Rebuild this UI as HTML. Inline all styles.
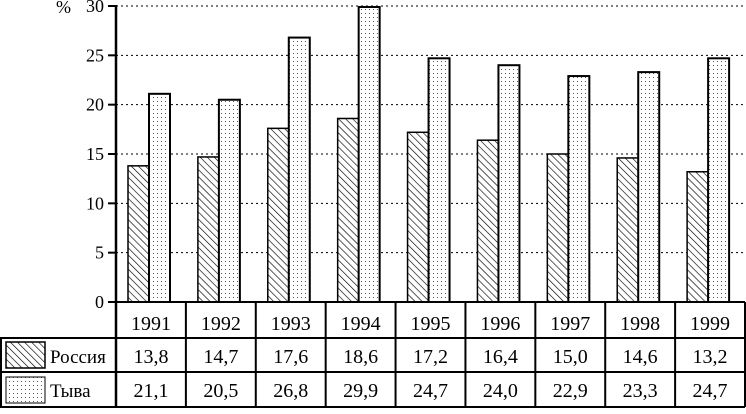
<!DOCTYPE html>
<html><head><meta charset="utf-8"><style>
body{margin:0;background:#fff;}
svg text{font-family:"Liberation Serif",serif;fill:#000;}
</style></head><body>
<svg width="746" height="409" viewBox="0 0 746 409" xmlns="http://www.w3.org/2000/svg">
<defs>
<pattern id="hatch" width="5" height="5" patternUnits="userSpaceOnUse" patternTransform="rotate(-45)">
<rect width="5" height="5" fill="#fff"/><line x1="0" y1="0" x2="0" y2="5" stroke="#000" stroke-width="1.3"/></pattern>
<pattern id="dots" width="4" height="4" patternUnits="userSpaceOnUse">
<rect width="4" height="4" fill="#fff"/><rect x="1" y="1" width="1" height="1" fill="#555"/></pattern>
</defs>
<g id="grid"></g>
<g id="bars"></g>
<g id="axis"></g>
<g id="table"></g>
</svg>
<script>
const years=["1991","1992","1993","1994","1995","1996","1997","1998","1999"];
const russia=[13.8,14.7,17.6,18.6,17.2,16.4,15.0,14.6,13.2];
const tyva=[21.1,20.5,26.8,29.9,24.7,24.0,22.9,23.3,24.7];
const russiaLabels=["13,8","14,7","17,6","18,6","17,2","16,4","15,0","14,6","13,2"];
const tyvaLabels=["21,1","20,5","26,8","29,9","24,7","24,0","22,9","23,3","24,7"];
const yTicks=[0,5,10,15,20,25,30];

const NS="http://www.w3.org/2000/svg";
const X0=116,X1=745,Y0=302,Ytop=6,YMAX=30;
const colW=(X1-X0)/years.length;
const y=v=>Y0-(v/YMAX)*(Y0-Ytop);
const xc=i=>X0+i*colW;
function mk(tag,attrs,parent,text){const e=document.createElementNS(NS,tag);for(const k in attrs)e.setAttribute(k,attrs[k]);if(text!==undefined)e.textContent=text;parent.appendChild(e);return e;}
const grid=document.getElementById('grid'),bars=document.getElementById('bars'),axis=document.getElementById('axis'),table=document.getElementById('table');

yTicks.forEach(t=>{
  if(t>0){const l=mk('line',{x1:X0,x2:X1,y1:y(t),y2:y(t),stroke:'#000','stroke-width':1,'stroke-dasharray':'2,3'},grid);
  
  }
  const tk=mk('line',{x1:X0-8,x2:X0,y1:y(t),y2:y(t),stroke:'#000','stroke-width':2},axis);
  
  
  const tx=mk('text',{x:X0-12,y:y(t)+6,'text-anchor':'end','font-size':18},axis,String(t));
  
  
});
const pct=mk('text',{x:56,y:13,'font-size':18},axis,'%');


const ax=mk('line',{x1:X0,x2:X0,y1:Ytop-1,y2:407,stroke:'#000','stroke-width':2.5},axis);



years.forEach((yr,i)=>{
  const r=mk('rect',{x:xc(i)+12,y:y(russia[i]),width:21,height:Y0-y(russia[i]),fill:'url(#hatch)',stroke:'#000','stroke-width':1.5},bars);
  
  
  const t=mk('rect',{x:xc(i)+33,y:y(tyva[i]),width:21,height:Y0-y(tyva[i]),fill:'url(#dots)',stroke:'#000','stroke-width':2},bars);
  
  
});

const rows=[302,338,372,407];
rows.forEach((ry,k)=>{const l=mk('line',{x1:k==0?X0:0,x2:X1,y1:ry,y2:ry,stroke:'#000','stroke-width':2},table);

});
mk('line',{x1:1,x2:1,y1:338,y2:407,stroke:'#000','stroke-width':2},table);
for(let i=1;i<=years.length;i++){const l=mk('line',{x1:xc(i),x2:xc(i),y1:302,y2:407,stroke:'#000','stroke-width':2},table);

}
years.forEach((yr,i)=>{
  const cx=xc(i)+colW/2;
  const a=mk('text',{x:cx,y:330,'text-anchor':'middle','font-size':20},table,yr);
  
  
  const b=mk('text',{x:cx,y:363,'text-anchor':'middle','font-size':20},table,russiaLabels[i]);
  
  
  const c=mk('text',{x:cx,y:397,'text-anchor':'middle','font-size':20},table,tyvaLabels[i]);
  
  
});
const s1=mk('rect',{x:6,y:342,width:39,height:26,fill:'url(#hatch)',stroke:'#000','stroke-width':1.5},table);


const s2=mk('rect',{x:6,y:377,width:39,height:26,fill:'url(#dots)',stroke:'#000','stroke-width':1},table);


const l1=mk('text',{x:50,y:363,'font-size':19},table,'Россия');


const l2=mk('text',{x:50,y:397,'font-size':19},table,'Тыва');


</script>
</body></html>
